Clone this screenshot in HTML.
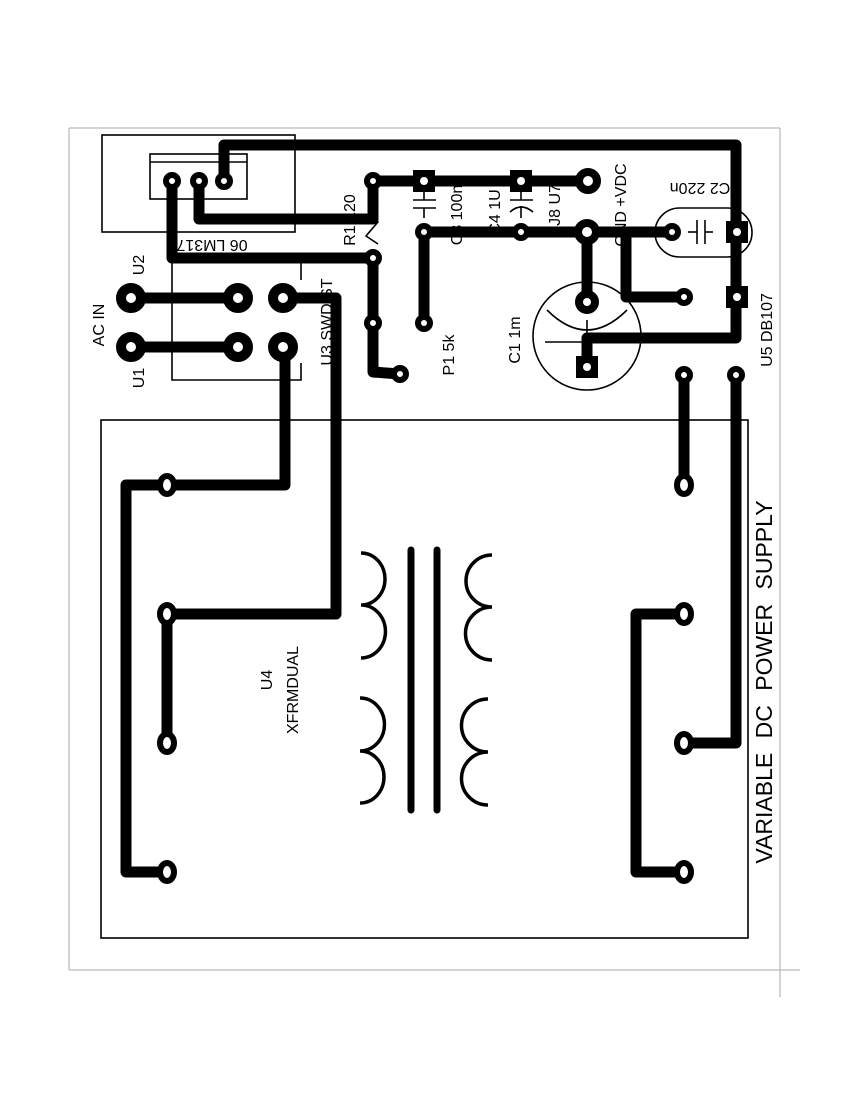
<!DOCTYPE html>
<html><head><meta charset="utf-8"><style>
html,body{margin:0;padding:0;background:#fff;}
svg{display:block;}
text{font-family:"Liberation Sans",sans-serif;fill:#000;}
</style></head><body>
<svg width="850" height="1100" viewBox="0 0 850 1100" xmlns="http://www.w3.org/2000/svg">
<g stroke="#aaa" stroke-width="1" fill="none">
<line x1="69" y1="128" x2="780" y2="128"/>
<line x1="69" y1="128" x2="69" y2="970"/>
<line x1="69" y1="970" x2="800" y2="970"/>
<line x1="780" y1="128" x2="780" y2="997"/>
</g>
<g stroke="#000" stroke-width="1.6" fill="none">
<rect x="101" y="420" width="647" height="518"/>
<rect x="102" y="135" width="193" height="97"/>
<rect x="150" y="154" width="97" height="45"/>
<line x1="150" y1="162" x2="247" y2="162"/>
<polyline points="172,262 172,380 301,380 301,363"/>
<line x1="301" y1="263" x2="301" y2="280"/>
<rect x="655" y="208" width="97" height="49" rx="24.5"/>
<circle cx="587" cy="336" r="54"/>
<path d="M547,310 Q587,350 627,310"/>
<line x1="545" y1="342" x2="587" y2="342"/>
<line x1="587" y1="320" x2="587" y2="360"/>
<line x1="688" y1="232" x2="697" y2="232"/><line x1="697" y1="220" x2="697" y2="244"/>
<line x1="705" y1="220" x2="705" y2="244"/><line x1="705" y1="232" x2="713" y2="232"/>
<line x1="424" y1="190" x2="424" y2="200"/><line x1="413" y1="200" x2="436" y2="200"/>
<line x1="413" y1="208" x2="436" y2="208"/><line x1="424" y1="208" x2="424" y2="218"/>
<line x1="521" y1="190" x2="521" y2="200"/><line x1="510" y1="200" x2="533" y2="200"/>
<path d="M510,212 Q521,202 533,212"/><line x1="521" y1="206" x2="521" y2="218"/>
<polyline points="378,200 370,210 378,222 366,236 378,244"/>
</g>
<g stroke="#000" fill="none">
<line x1="411" y1="550" x2="411" y2="810" stroke-width="7" stroke-linecap="round"/>
<line x1="437" y1="550" x2="437" y2="810" stroke-width="7" stroke-linecap="round"/>
<g stroke-width="3.5">
<path d="M361,553 A24,26 0 0 1 361,605 A24,26 0 0 1 361,658"/>
<path d="M360,698 A24,26 0 0 1 360,751 A24,26 0 0 1 360,803"/>
<path d="M492,555 A26,26 0 0 0 492,607 A26,26 0 0 0 492,660"/>
<path d="M488,699 A26,26 0 0 0 488,752 A26,26 0 0 0 488,805"/>
</g>
</g>
<g stroke="#000" stroke-width="11" fill="none" stroke-linejoin="round" stroke-linecap="round">
<polyline points="167,485 126,485 126,872 167,872"/>
<polyline points="167,485 285,485 285,349"/>
<polyline points="167,742 167,614 336,614 336,298 283,298"/>
<polyline points="684,375 684,485"/>
<polyline points="684,743 736,743 736,375"/>
<polyline points="684,614 636,614 636,872 684,872"/>
<polyline points="224,181 224,145 736,145 736,338 587,338 587,367"/>
<polyline points="199,181 199,219 373,219 373,181 588,181"/>
<polyline points="172,181 172,258 373,258 373,372 400,374"/>
<polyline points="424,323 424,232 672,232"/>
<polyline points="587,232 587,302"/>
<polyline points="626,232 626,297 684,297"/>
<line x1="131" y1="298" x2="238" y2="298"/>
<line x1="131" y1="347" x2="238" y2="347"/>
</g>
<g fill="#fff" stroke="#000">
<g stroke-width="10">
<circle cx="131" cy="298" r="10"/><circle cx="238" cy="298" r="10"/><circle cx="283" cy="298" r="10"/>
<circle cx="131" cy="347" r="10"/><circle cx="238" cy="347" r="10"/><circle cx="283" cy="347" r="10"/>
</g>
<g stroke-width="6">
<ellipse cx="167" cy="485" rx="7" ry="9"/><ellipse cx="167" cy="614" rx="7" ry="9"/>
<ellipse cx="167" cy="743" rx="7" ry="9"/><ellipse cx="167" cy="872" rx="7" ry="9"/>
<ellipse cx="684" cy="485" rx="7" ry="9"/><ellipse cx="684" cy="614" rx="7" ry="9"/>
<ellipse cx="684" cy="743" rx="7" ry="9"/><ellipse cx="684" cy="872" rx="7" ry="9"/>
<circle cx="172" cy="181" r="6"/><circle cx="199" cy="181" r="6"/><circle cx="224" cy="181" r="6"/>
<circle cx="373" cy="181" r="6"/><circle cx="373" cy="258" r="6"/><circle cx="373" cy="323" r="6"/>
<circle cx="400" cy="374" r="6"/><circle cx="424" cy="232" r="6"/><circle cx="424" cy="323" r="6"/>
<circle cx="521" cy="232" r="6"/><circle cx="672" cy="232" r="6"/><circle cx="684" cy="297" r="6"/>
<circle cx="684" cy="375" r="6"/><circle cx="736" cy="375" r="6"/>
</g>
<g stroke-width="8">
<circle cx="588" cy="181" r="9"/><circle cx="587" cy="232" r="9"/><circle cx="587" cy="302" r="8"/>
</g>
</g>
<g fill="#000">
<rect x="413" y="170" width="22" height="22"/><rect x="510" y="170" width="22" height="22"/>
<rect x="726" y="221" width="22" height="22"/><rect x="726" y="286" width="22" height="22"/>
<rect x="576" y="356" width="22" height="22"/>
</g>
<g fill="#fff">
<circle cx="424" cy="181" r="4"/><circle cx="521" cy="181" r="4"/>
<circle cx="737" cy="232" r="4"/><circle cx="737" cy="297" r="4"/><circle cx="587" cy="367" r="4"/>
</g>
<g font-size="16">
<text transform="translate(144,265) rotate(-90)" text-anchor="middle">U2</text>
<text transform="translate(104,325) rotate(-90)" text-anchor="middle">AC  IN</text>
<text transform="translate(144,378) rotate(-90)" text-anchor="middle">U1</text>
<text transform="translate(332,322) rotate(-90)" text-anchor="middle">U3 SWD ST</text>
<text transform="translate(212,240) rotate(180)" text-anchor="middle">06 LM317</text>
<text transform="translate(355,220) rotate(-90)" text-anchor="middle">R1 120</text>
<text transform="translate(462,215) rotate(-90)" text-anchor="middle">C3 100n</text>
<text transform="translate(500,212) rotate(-90)" text-anchor="middle">C4 1U</text>
<text transform="translate(560,205) rotate(-90)" text-anchor="middle">J8  U7</text>
<text transform="translate(626,205) rotate(-90)" text-anchor="middle">GND +VDC</text>
<text transform="translate(700,183) rotate(180)" text-anchor="middle">C2  220n</text>
<text transform="translate(772,330) rotate(-90)" text-anchor="middle">U5 DB107</text>
<text transform="translate(520,340) rotate(-90)" text-anchor="middle">C1 1m</text>
<text transform="translate(454,355) rotate(-90)" text-anchor="middle">P1 5k</text>
<text transform="translate(272,680) rotate(-90)" text-anchor="middle">U4</text>
<text transform="translate(298,690) rotate(-90)" text-anchor="middle">XFRMDUAL</text>
</g>
<text transform="translate(772,682) rotate(-90)" text-anchor="middle" font-size="23" word-spacing="8">VARIABLE DC POWER SUPPLY</text>
</svg>
</body></html>
